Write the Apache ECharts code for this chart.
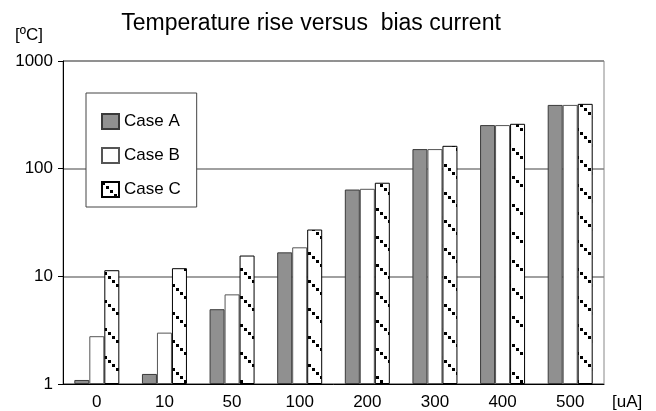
<!DOCTYPE html>
<html>
<head>
<meta charset="utf-8">
<script src="https://cdn.jsdelivr.net/npm/echarts@6/dist/echarts.min.js"></script>
<style>
  html, body { margin: 0; padding: 0; background: #fff; }
  #chart { width: 656px; height: 411px; }
</style>
</head>
<body>
<div id="chart"></div>
<script>
// bias current categories [uA]
var currents = ['0', '10', '50', '100', '200', '300', '400', '500'];
// temperature rise [ºC]
var caseA = [1.09, 1.24, 4.95, 16.7, 64, 152, 254, 391];
var caseB = [2.78, 3.0, 6.8, 18.6, 65, 152, 254, 391];
var caseC = [11.4, 11.9, 15.6, 27.2, 74, 163, 261, 400];

var fontFam = 'Liberation Sans, Arial, sans-serif';

// dotted diagonal hatch for case C
function makeHatch() {
    var c = document.createElement('canvas');
    c.width = 28;
    c.height = 28;
    var ctx = c.getContext('2d');
    ctx.fillStyle = '#fff';
    ctx.fillRect(0, 0, 28, 28);
    ctx.fillStyle = '#000';
    for (var i = 0; i < 28; i += 4) {
        ctx.fillRect(i, i, 3, 3);
    }
    return c;
}
var hatch = { image: makeHatch(), repeat: 'repeat' };

function renderChart() {
    var dom = document.getElementById('chart');
    var myChart = echarts.init(dom);

    var option = {
        backgroundColor: '#FFFFFF',
        animation: false,
        title: {
            text: 'Temperature rise versus  bias current',
            left: 306,
            textAlign: 'center',
            top: 7,
            textStyle: {
                fontFamily: fontFam,
                fontSize: 23,
                fontWeight: 'normal',
                color: '#000'
            }
        },
        legend: {
            orient: 'vertical',
            left: 86,
            top: 93,
            padding: [20, 16, 9, 15],
            itemWidth: 17,
            itemHeight: 15,
            itemGap: 17,
            icon: 'rect',
            backgroundColor: '#fff',
            borderColor: '#444',
            borderWidth: 1,
            textStyle: {
                fontFamily: fontFam,
                fontSize: 17,
                color: '#000'
            },
            data: ['Case A', 'Case B', 'Case C']
        },
        grid: {
            left: 63,
            right: 52,
            top: 61,
            bottom: 26,
            show: true,
            borderColor: '#888',
            borderWidth: 1
        },
        xAxis: {
            type: 'category',
            data: currents,
            axisLine: { lineStyle: { color: '#000', width: 1 } },
            axisTick: { length: 4, lineStyle: { color: '#000' } },
            axisLabel: {
                margin: 10,
                fontFamily: fontFam,
                fontSize: 17,
                color: '#000'
            }
        },
        yAxis: {
            type: 'log',
            logBase: 10,
            min: 1,
            max: 1000,
            axisLine: { show: true, lineStyle: { color: '#000', width: 1 } },
            axisTick: { show: true, length: 5, lineStyle: { color: '#000' } },
            axisLabel: {
                margin: 10,
                fontFamily: fontFam,
                fontSize: 17,
                color: '#000',
                formatter: function(v) { return String(Math.round(v)); }
            },
            splitLine: { lineStyle: { color: '#808080', width: 1.5 } },
            minorTick: { show: false }
        },
        graphic: [
            {
                type: 'text',
                left: 15,
                top: 27,
                style: { text: '[ºC]', font: '17px ' + fontFam, fill: '#000' }
            },
            {
                type: 'text',
                left: 612,
                top: 394,
                style: { text: '[uA]', font: '17px ' + fontFam, fill: '#000' }
            }
        ],
        series: [
            {
                name: 'Case A',
                type: 'bar',
                barWidth: 15,
                barGap: '0%',
                data: caseA,
                itemStyle: { color: '#909090', borderColor: '#3a3a3a', borderWidth: 1 }
            },
            {
                name: 'Case B',
                type: 'bar',
                barWidth: 15,
                barGap: '0%',
                data: caseB,
                itemStyle: { color: '#fff', borderColor: '#555', borderWidth: 1 }
            },
            {
                name: 'Case C',
                type: 'bar',
                barWidth: 15,
                barGap: '0%',
                data: caseC,
                itemStyle: { color: hatch, borderColor: '#000', borderWidth: 1 }
            }
        ]
    };

    myChart.setOption(option);

    window.onresize = function() {
        myChart.resize();
    };
}
renderChart();
</script>
</body>
</html>
